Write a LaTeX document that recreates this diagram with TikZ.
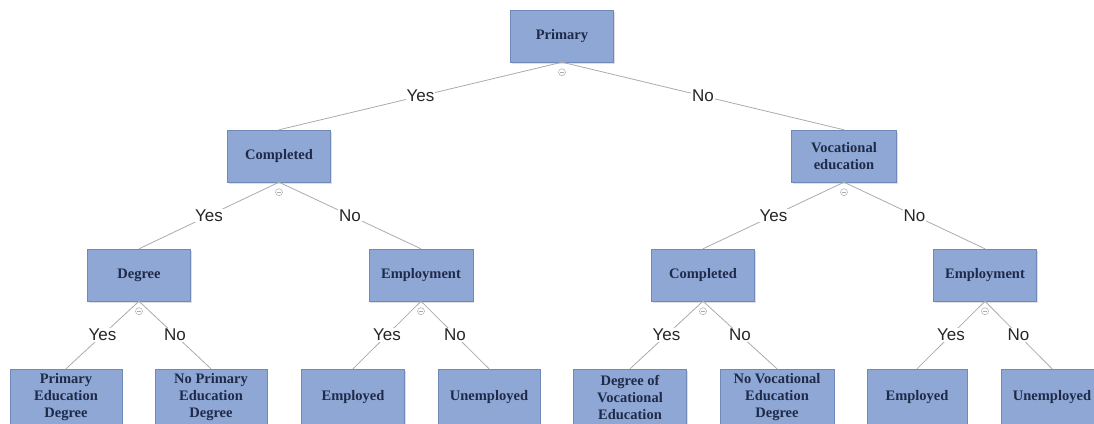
\documentclass[tikz,border=0pt]{standalone}
\usepackage{fontspec}
\setmainfont{Liberation Serif}
\newfontfamily\labfont{Liberation Sans}
\usetikzlibrary{positioning,shadows}
\definecolor{ink}{HTML}{1E2A48}
\definecolor{boxfill}{HTML}{8EA7D5}
\definecolor{boxline}{HTML}{7189B8}
\definecolor{wire}{HTML}{ABABAB}

\begin{document}
\begin{tikzpicture}[x=1pt,y=-1pt,
 box/.style={draw=boxline,fill=boxfill,minimum width=103pt,minimum height=52pt,
 align=center,text=ink,font=\fontsize{14.5}{17}\selectfont\bfseries,
 drop shadow={opacity=.25,shadow xshift=1pt,shadow yshift=-1.5pt}},
 leaf/.style={box,minimum height=56pt},
 edge/.style={draw=wire,line width=.8pt},
 lab/.style={fill=white,inner sep=1pt,font=\labfont\fontsize{17}{17}\selectfont,text=black!85},
 knob/.style={circle,draw=wire,fill=white,line width=.5pt,minimum size=7pt,inner sep=0pt}]
\useasboundingbox (0,0) rectangle (1094,423);
% decision nodes
\node[box] (prim) at (562,36) {Primary};
\node[box] (compl) at (279,156) {Completed};
\node[box,minimum width=105pt] (voc) at (844,156) {Vocational\\education};
\node[box] (deg) at (139,275) {Degree};
\node[box,minimum width=104pt] (empA) at (421,275) {Employment};
\node[box] (comp) at (703,275) {Completed};
\node[box] (empB) at (985,275) {Employment};
% outcomes
\node[leaf,minimum width=112pt] (pedu) at (66,397) {Primary\\Education\\Degree};
\node[leaf,minimum width=112pt] (nopedu) at (211,397) {No Primary\\Education\\Degree};
\node[leaf] (empl) at (353,397) {Employed};
\node[leaf,minimum width=102pt] (unempl) at (489,397) {Unemployed};
\node[leaf,minimum width=113pt] (dvoc) at (630,397) {Degree of\\Vocational\\Education};
\node[leaf,minimum width=114pt] (novoc) at (777,397) {No Vocational\\Education\\Degree};
\node[leaf,minimum width=100pt] (emplB) at (917,397) {Employed};
\node[leaf,minimum width=102pt] (unemplB) at (1052,397) {Unemployed};
% branches
\foreach \p/\c/\t in {prim/compl/Yes,prim/voc/No,compl/deg/Yes,compl/empA/No,
 voc/comp/Yes,voc/empB/No,deg/pedu/Yes,deg/nopedu/No,empA/empl/Yes,empA/unempl/No,
 comp/dvoc/Yes,comp/novoc/No,empB/emplB/Yes,empB/unemplB/No}
 \draw[edge] (\p.south) -- node[lab]{\t} (\c.north);
\foreach \p in {prim,compl,voc,deg,empA,comp,empB} {
 \node[knob] (\p-k) at ([yshift=-10pt]\p.south) {};
 \draw[wire,line width=.5pt] ([xshift=-2pt]\p-k.center) -- ([xshift=2pt]\p-k.center);
}
\end{tikzpicture}
\end{document}
